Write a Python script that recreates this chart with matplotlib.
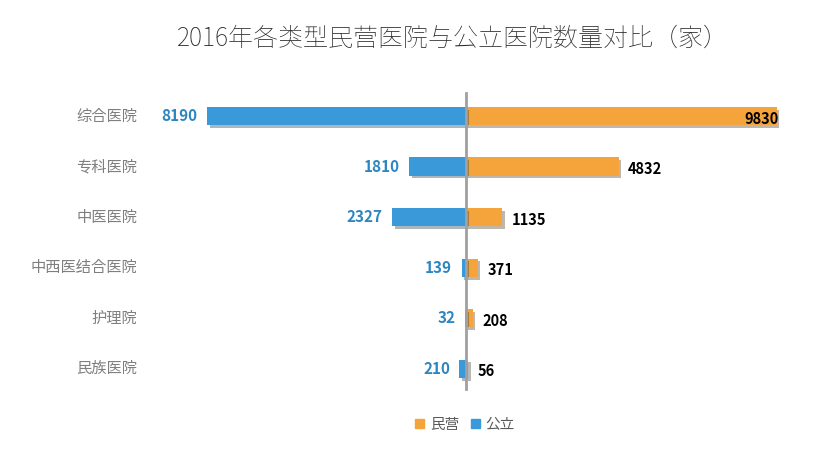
import matplotlib.pyplot as plt
import matplotlib.patheffects as pe
from matplotlib import font_manager as fm

# CJK-Schrift suchen und registrieren
cjk = [f for f in fm.findSystemFonts() if 'CJK' in f or 'cjk' in f.lower()]
for f in cjk:
    try:
        fm.fontManager.addfont(f)
    except Exception:
        pass
names = sorted({fm.FontProperties(fname=f).get_name() for f in cjk})
fam = [n for n in names if 'SC' in n] + names + ['Noto Sans CJK SC', 'DejaVu Sans']
plt.rcParams['font.family'] = fam

categories = ['综合医院', '专科医院', '中医医院', '中西医结合医院', '护理院', '民族医院']
private = [9830, 4832, 1135, 371, 208, 56]
public = [8190, 1810, 2327, 139, 32, 210]

orange = '#F5A33B'
blue = '#3A9AD9'
W, H = 824, 455
fig = plt.figure(figsize=(W / 100, H / 100), dpi=100)
ax = fig.add_axes([150 / W, 1 - 395 / H, 650 / W, 305 / H])
ax.set_xlim(-10000, 10570)
ax.set_ylim(5.52, -0.515)
ax.axis('off')

shadow = [pe.SimplePatchShadow(offset=(2, -2), alpha=0.35), pe.Normal()]
y = list(range(len(categories)))
ax.barh(y, private, height=0.36, color=orange, path_effects=shadow, zorder=2)
ax.barh(y, [-v for v in public], height=0.36, color=blue, path_effects=shadow, zorder=2)
ax.axvline(0, ymin=0.02, ymax=0.99, color='#A0A0A0', lw=2, zorder=3)

for i, (c, p, q) in enumerate(zip(categories, private, public)):
    ax.text(-10400, i, c, ha='right', va='center', fontsize=11, style='italic', color='#7F7F7F')
    ax.text(-q - 300, i, str(q), ha='right', va='center', fontsize=11, style='italic',
            fontweight='bold', color='#2E86C1')
    if p == max(private):
        ax.text(p + 50, i + 0.05, str(p), ha='right', va='center', fontsize=10.5,
                fontweight='bold', color='black', zorder=4)
    else:
        ax.text(p + 300, i + 0.05, str(p), ha='left', va='center', fontsize=10.5,
                fontweight='bold', color='black')

fig.text(453 / W, 1 - 38 / H, '2016年各类型民营医院与公立医院数量对比（家）',
         ha='center', va='center', fontsize=18, color='#262626', fontweight='light')

handles = [plt.Rectangle((0, 0), 1, 1, color=orange), plt.Rectangle((0, 0), 1, 1, color=blue)]
fig.legend(handles, ['民营', '公立'], loc='center', bbox_to_anchor=(465 / W, 1 - 425 / H),
           ncol=2, frameon=False, fontsize=10.5, handlelength=0.6, handleheight=0.6,
           columnspacing=0.8, handletextpad=0.4, labelcolor='#595959')

fig.savefig('out.png', dpi=100)
